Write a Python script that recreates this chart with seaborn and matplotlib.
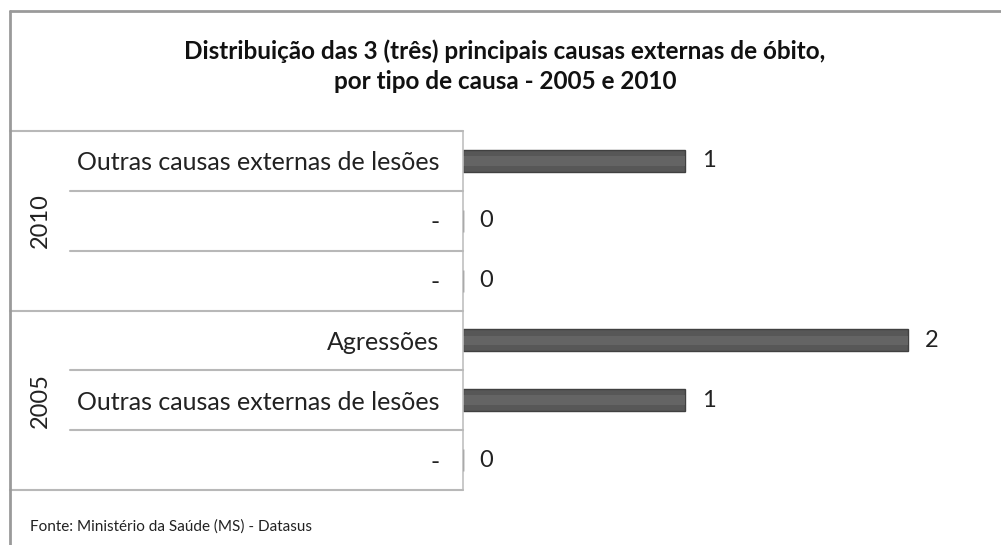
import matplotlib
matplotlib.use("Agg")
import matplotlib.pyplot as plt
import matplotlib.transforms as mtransforms
from matplotlib.lines import Line2D
import seaborn as sns
import pandas as pd

# ---- data ----
years = ["2010", "2010", "2010", "2005", "2005", "2005"]
causes = ["Outras causas externas de lesões", "-", "-",
          "Agressões", "Outras causas externas de lesões", "-"]
values = [1, 0, 0, 2, 1, 0]
title = "Distribuição das 3 (três) principais causas externas de óbito,\npor tipo de causa - 2005 e 2010"
source = "Fonte: Ministério da Saúde (MS) - Datasus"

sns.set_theme(style="white")
plt.rcParams['font.family'] = ['Lato', 'DejaVu Sans']

df = pd.DataFrame({
    "key": [f"{y}_{i}" for i, y in enumerate(years)],
    "cause": causes,
    "value": values,
})

fig = plt.figure(figsize=(10.01, 5.45), dpi=100)
ax = fig.add_axes([463/1001, 1-490/545, (990-463)/1001, (490-131)/545])

sns.barplot(data=df, y="key", x="value", orient="h", color="#575757",
            width=0.37, edgecolor="#404040", linewidth=1.0, ax=ax, saturation=1)
# subtle highlight strip for bevel look
sns.barplot(data=df, y="key", x="value", orient="h", color="#646464",
            width=0.16, linewidth=0, ax=ax, saturation=1)

ax.set_xlim(0, 2.37)
ax.set_ylim(5.5, -0.5)
ax.set_xlabel("")
ax.set_ylabel("")
ax.set_xticks([])
ax.set_yticks(range(len(causes)))
ax.set_yticklabels(causes, fontsize=18, color="#222222")
ax.tick_params(axis="y", length=0, pad=17)

for s in ["top", "right", "bottom"]:
    ax.spines[s].set_visible(False)
ax.spines["left"].set_color("#c0c0c0")
ax.spines["left"].set_linewidth(1.2)

# value labels
ax.bar_label(ax.containers[0], labels=[str(v) for v in values],
             padding=12, fontsize=17, color="#222222")

# table lines
tr = mtransforms.blended_transform_factory(fig.transFigure, ax.transData)
x_outer = 10/1001
x_inner = 70/1001
x_axis = 463/1001
lc = "#b8b8b8"
for b in [-0.5, 2.5, 5.5]:
    fig.add_artist(Line2D([x_outer, x_axis], [b, b], transform=tr, color=lc, lw=1.5))
for b in [0.5, 1.5, 3.5, 4.5]:
    fig.add_artist(Line2D([x_inner, x_axis], [b, b], transform=tr, color=lc, lw=1.5))

# year labels
for yr, yc in [("2010", 1.0), ("2005", 4.0)]:
    t = fig.text(40/1001, 0, yr, transform=tr, rotation=90, ha="center", va="center",
                 fontsize=17, color="#222222")
    t.set_y(yc)

# outer border
fig.add_artist(Line2D([10/1001, 10/1001], [0, 1-11/545], transform=fig.transFigure,
                      color="#9a9a9a", lw=2.0))
fig.add_artist(Line2D([10/1001, 1.0], [1-11/545, 1-11/545], transform=fig.transFigure,
                      color="#9a9a9a", lw=2.0))

fig.text(505/1001, 1-66/545, title, ha="center", va="center", fontsize=17.5,
         fontweight="bold", color="#111111", linespacing=1.35)
fig.text(30/1001, 1-527/545, source, ha="left", va="center", fontsize=11, color="#222222")

fig.savefig("out.png", dpi=100, facecolor="white")
